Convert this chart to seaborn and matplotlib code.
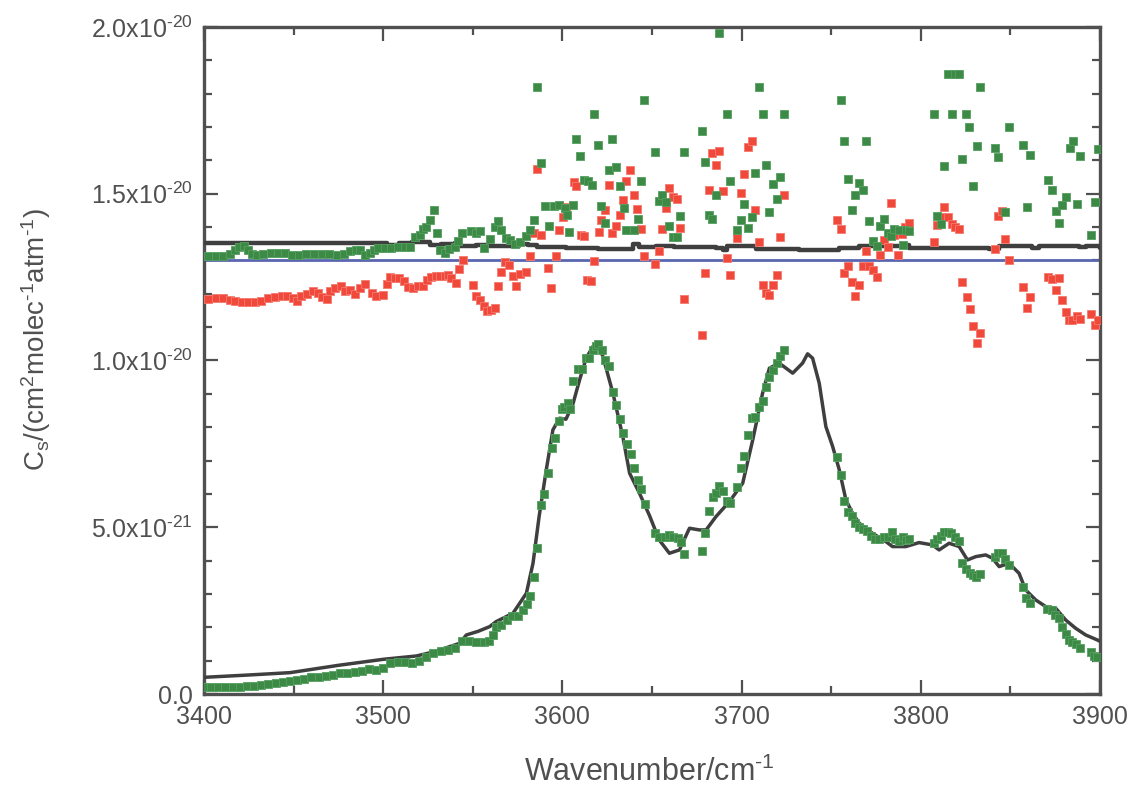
import numpy as np
import pandas as pd
import matplotlib
matplotlib.use("Agg")
import matplotlib.pyplot as plt
import seaborn as sns
from matplotlib.ticker import MultipleLocator, FixedLocator, FixedFormatter

# ---------------- data (y in units of 1e-21 cm^2 molec^-1 atm^-1) ----------------
model_x = [3400, 3425, 3448, 3475, 3500, 3518.5, 3528, 3542.7, 3546.4, 3553,
           3559.4, 3563, 3572.4, 3579.9, 3583.6, 3587, 3591, 3594.7, 3598.4, 3602,
           3606, 3609.6, 3613.3, 3617, 3619.8, 3622.6, 3628.2, 3633.7, 3637.5, 3643,
           3648.6, 3654, 3659.7, 3665.3, 3670.9, 3676.4, 3680.2, 3685.7, 3693.2, 3700.6,
           3706.2, 3711.7, 3715.5, 3721, 3728.5, 3734, 3736.8, 3739.6, 3743.3, 3747,
           3750.8, 3754.5, 3758.2, 3761.9, 3765.6, 3773, 3780.5, 3784.2, 3791.6, 3799,
           3806.5, 3810.2, 3815.8, 3821.4, 3826, 3830.7, 3836.2, 3840, 3843.7, 3849.2,
           3854.8, 3858.5, 3864.1, 3869.7, 3875.3, 3880.8, 3886.4, 3892, 3898.5, 3900]
model_y = [0.50, 0.57, 0.64, 0.86, 1.04, 1.14, 1.26, 1.52, 1.77, 1.88,
           2.02, 2.17, 2.42, 3.02, 3.92, 5.32, 6.72, 7.92, 8.27, 8.24,
           8.72, 9.42, 10.07, 10.42, 10.47, 10.12, 9.02, 7.72, 6.62, 6.02,
           5.35, 4.62, 4.22, 4.32, 4.97, 4.92, 4.92, 5.32, 5.77, 6.32,
           7.62, 9.02, 9.77, 9.92, 9.62, 9.92, 10.20, 10.07, 9.32, 8.02,
           7.42, 6.72, 5.82, 5.42, 5.12, 4.82, 4.57, 4.42, 4.42, 4.54,
           4.47, 4.32, 4.52, 4.42, 4.02, 4.12, 4.17, 4.07, 3.82, 3.92,
           3.62, 3.12, 2.82, 2.62, 2.57, 2.22, 1.97, 1.77, 1.62, 1.58]

meas_x = [3400, 3404, 3408, 3412, 3416, 3420, 3424, 3428, 3432, 3436, 3440, 3444, 3448, 3452,
          3456, 3460, 3464, 3468, 3472, 3476, 3480, 3484, 3488, 3492, 3496, 3500, 3504, 3508,
          3512, 3516, 3520, 3524, 3528, 3532, 3536, 3540, 3544, 3548, 3552, 3556, 3559,
          3561, 3563, 3566, 3569, 3572, 3575, 3578, 3580, 3582, 3584, 3586, 3588, 3590, 3592,
          3594, 3596, 3598, 3599.5, 3601, 3603, 3604, 3606, 3608.5, 3611, 3613, 3615, 3617,
          3618.5, 3620, 3622, 3624, 3626, 3628, 3630, 3632, 3634, 3636, 3638, 3640, 3642, 3644,
          3646, 3651.4, 3654.1, 3657, 3659.7, 3661.6, 3664.4, 3666.2, 3668, 3678, 3679.8, 3682,
          3684, 3685.7, 3687.6, 3689.8, 3691.7, 3693.5, 3697.4, 3699.7, 3701.5, 3703.8, 3705.8,
          3707.7, 3709.9, 3711.7, 3713.6, 3715.5, 3717.3, 3719.6, 3721.4, 3723.6,
          3753.2, 3755.4, 3757.3, 3759.5, 3761.5, 3763.4, 3765.6, 3767.9, 3769.7, 3772.1,
          3774.5, 3776.8, 3779.6, 3781.4, 3783.7, 3785.7, 3787.9, 3789.8, 3791.6, 3793.5,
          3807.4, 3808.9, 3811.2, 3813, 3815.2, 3817.1, 3819.1, 3821.4, 3823.2, 3825.1, 3827.3,
          3829.2, 3831, 3833, 3841.3, 3843.1, 3845.2, 3847, 3849.2, 3857, 3858.9, 3861, 3870.6,
          3873, 3874.9, 3877.1, 3879, 3880.8, 3882.7, 3884.5, 3886.8, 3889, 3894.8, 3896.6, 3898.5]
meas_y = [0.20, 0.20, 0.21, 0.21, 0.22, 0.22, 0.23, 0.24, 0.26, 0.30, 0.33, 0.35, 0.38, 0.42,
          0.46, 0.50, 0.52, 0.53, 0.56, 0.62, 0.64, 0.65, 0.70, 0.74, 0.72, 0.78, 0.93, 0.96,
          0.96, 0.92, 1.00, 1.12, 1.22, 1.28, 1.32, 1.37, 1.60, 1.60, 1.57, 1.56, 1.58,
          1.77, 2.02, 2.07, 2.22, 2.34, 2.34, 2.52, 2.70, 2.95, 3.52, 4.39, 5.67, 5.99, 6.64,
          7.37, 7.67, 8.20, 8.54, 8.60, 8.72, 8.54, 9.40, 9.74, 9.74, 10.07, 10.07, 10.32,
          10.42, 10.50, 10.30, 10.00, 9.82, 9.05, 8.67, 8.25, 7.82, 7.49, 7.20, 6.77, 6.42, 6.14,
          5.69, 4.82, 4.72, 4.70, 4.77, 4.70, 4.67, 4.57, 4.20, 4.30, 4.82, 5.50,
          5.90, 6.02, 6.24, 6.10, 5.80, 5.72, 6.22, 6.77, 7.14, 7.77, 8.27,
          8.30, 8.62, 8.80, 9.20, 9.50, 9.70, 9.92, 10.12, 10.30,
          7.10, 6.57, 5.80, 5.47, 5.34, 5.12, 5.00, 4.95, 4.89, 4.74,
          4.64, 4.64, 4.70, 4.70, 4.87, 4.64, 4.60, 4.70, 4.62, 4.64,
          4.52, 4.64, 4.74, 4.87, 4.85, 4.82, 4.72, 4.60, 3.94, 3.74, 3.64,
          3.57, 3.52, 3.60, 4.10, 4.22, 4.22, 4.04, 3.87, 3.20, 2.87, 2.74, 2.54,
          2.52, 2.37, 2.27, 2.00, 1.80, 1.62, 1.57, 1.50, 1.37, 1.27, 1.14, 1.12]

upper_green_x = [3402.4, 3406.5, 3410.4, 3414.5, 3417.3, 3419.7, 3422.3, 3424.3, 3426.6, 3429.4,
                 3433, 3437.2, 3441.4, 3445.2, 3448.9, 3453.1, 3457.2, 3461.3, 3465.6, 3469.9,
                 3474, 3478, 3481.4, 3484.7, 3487, 3489.7, 3492.5, 3494.8, 3497.2, 3500.9,
                 3504.6, 3508.3, 3512, 3514.8, 3517.6, 3520.4, 3522.3, 3524.1, 3526.3, 3528.2,
                 3530.1, 3531.9, 3534.3, 3536.8, 3539.9, 3541.8, 3544.2, 3549.2, 3551.6, 3554.2,
                 3556.1, 3559.8, 3562.2, 3564.1, 3565.9, 3568.3, 3570.6, 3573.4, 3576.5, 3579.5,
                 3582.1, 3584, 3586, 3588.2, 3590.1, 3592.3, 3595.1, 3598.1, 3601.2, 3602.5,
                 3603.6, 3605.9, 3607.7, 3610, 3612, 3614.2, 3616.3, 3617.8, 3620, 3621.7,
                 3623.9, 3625.8, 3627.8, 3630, 3631.9, 3634.1, 3635.6, 3639.7, 3642.1, 3644,
                 3645.8, 3651.9, 3653.8, 3655.6, 3657.9, 3659.7, 3661.6, 3663.8, 3665.7, 3667.9,
                 3677.9, 3679.8, 3681.6, 3683.5, 3685.7, 3687.6, 3691.7, 3693.5, 3697.3, 3699.7,
                 3701.5, 3703.8, 3705.8, 3707.7, 3709.9, 3711.7, 3713.6, 3715.5, 3717.7, 3719.6,
                 3721.4, 3723.6, 3755.4, 3757.3, 3759.5, 3761.5, 3763.4, 3765.6, 3767.5, 3769.3,
                 3771.2, 3773.1, 3775.3, 3777.2, 3779.6, 3781.4, 3783.3, 3785.1, 3787.6, 3789.8,
                 3791.6, 3793.5, 3807.4, 3808.9, 3811.2, 3813, 3815.2, 3817.3, 3819.1, 3821.4,
                 3823.2, 3825.1, 3827, 3829.2, 3831.2, 3833, 3841.3, 3843.1, 3847, 3849.2,
                 3857, 3859.1, 3861, 3871, 3873, 3875.3, 3877.1, 3879, 3880.8, 3883,
                 3884.9, 3887, 3888.8, 3894.8, 3897, 3898.9]
upper_green_y = [13.14, 13.14, 13.14, 13.20, 13.30, 13.40, 13.44, 13.32, 13.20, 13.17,
                 13.20, 13.22, 13.22, 13.22, 13.16, 13.16, 13.18, 13.18, 13.18, 13.18,
                 13.16, 13.18, 13.27, 13.32, 13.30, 13.17, 13.22, 13.32, 13.37, 13.37,
                 13.37, 13.39, 13.40, 13.40, 13.70, 13.77, 13.94, 14.00, 14.20, 14.52,
                 13.82, 13.32, 13.22, 13.34, 13.40, 13.57, 13.82, 13.87, 13.82, 13.87,
                 13.37, 13.64, 14.00, 14.17, 13.92, 13.67, 13.62, 13.50, 13.54, 13.72,
                 13.92, 14.20, 18.20, 15.92, 14.64, 14.04, 14.64, 14.67, 14.57, 14.37,
                 13.84, 14.67, 16.64, 16.14, 15.40, 15.37, 15.27, 17.40, 16.47, 14.64,
                 14.12, 15.72, 16.64, 15.80, 15.22, 14.57, 13.92, 13.92, 14.25, 15.37,
                 17.80, 16.24, 14.77, 14.97, 14.74, 14.04, 13.70, 13.70, 14.32, 16.24,
                 16.87, 15.94, 14.37, 14.24, 14.97, 19.82, 17.40, 15.37, 13.90, 14.22,
                 14.69, 13.97, 14.30, 15.62, 18.20, 17.40, 15.87, 14.44, 15.29, 14.85,
                 15.49, 17.40, 17.80, 16.57, 15.45, 14.52, 14.97, 15.32, 15.12, 16.57,
                 14.17, 13.57, 13.44, 14.02, 14.24, 13.82, 13.74, 13.94, 13.90, 13.47,
                 13.92, 13.87, 17.40, 14.32, 14.10, 15.84, 18.60, 17.40, 18.60, 18.60,
                 16.04, 17.40, 17.00, 15.22, 16.44, 18.20, 16.37, 16.10, 14.44, 17.00,
                 16.47, 14.60, 16.16, 15.40, 15.12, 14.47, 14.12, 14.65, 14.89, 16.37,
                 16.57, 14.69, 16.12, 13.75, 14.74, 16.34]

red_x = [3402.4, 3406.5, 3410.4, 3414.5, 3417.3, 3421, 3424.7, 3428.4, 3432.1, 3435.9,
         3439.6, 3443.3, 3446.5, 3449.8, 3452, 3454.4, 3457.6, 3460.9, 3463.7, 3466.1,
         3468.4, 3470.6, 3473, 3476.2, 3478.6, 3481.4, 3484.2, 3487, 3489.7, 3493.5,
         3496.2, 3500, 3502.2, 3504, 3506.5, 3508.9, 3511.5, 3513.9, 3516.7, 3519.5,
         3522.3, 3524.5, 3526.9, 3529.3, 3531.5, 3534.3, 3536.2, 3538, 3540.5, 3542.3,
         3544.6, 3550.1, 3552, 3554.2, 3556.1, 3558, 3560, 3562.2, 3564.1, 3565.9,
         3567.8, 3570.2, 3572.4, 3574.3, 3576.5, 3579.9, 3582.1, 3584, 3586, 3588.2,
         3591.9, 3593.8, 3596.2, 3598.1, 3600.3, 3602.2, 3606.2, 3607.7, 3610.2, 3612,
         3613.7, 3616.1, 3617.9, 3620.2, 3621.7, 3623.9, 3625.9, 3627.8, 3630, 3631.9,
         3633.7, 3635.6, 3637.8, 3639.7, 3641.7, 3644, 3645.8, 3651.9, 3653.8, 3655.6,
         3657.9, 3659.7, 3661.6, 3663.8, 3665.7, 3667.9, 3677.9, 3679.8, 3681.6, 3683.5,
         3685.7, 3687.6, 3689.8, 3691.7, 3693.5, 3697.4, 3699.7, 3701.5, 3703.8, 3705.8,
         3707.7, 3709.9, 3711.7, 3713.6, 3715.5, 3717.7, 3719.7, 3721.6, 3723.6, 3753.2,
         3755.4, 3757.3, 3759.5, 3761.5, 3763.4, 3765.6, 3767.5, 3769.3, 3771.2, 3773.4,
         3775.5, 3777.3, 3779.6, 3781.4, 3783.3, 3785.1, 3787.4, 3789.4, 3791.3, 3793.5,
         3807.4, 3808.9, 3811.2, 3813, 3815.4, 3817.3, 3819.1, 3821.4, 3823.2, 3825.5,
         3827.3, 3829.2, 3831.2, 3833.1, 3841.3, 3843.1, 3845.2, 3847, 3849.2, 3857,
         3859.1, 3861, 3871, 3873, 3875.3, 3877.1, 3879, 3880.8, 3882.7, 3884.5,
         3887, 3888.8, 3894.8, 3897, 3898.9]
red_y = [11.84, 11.86, 11.86, 11.82, 11.77, 11.74, 11.74, 11.74, 11.77, 11.87,
         11.90, 11.92, 11.94, 11.87, 11.77, 11.94, 12.00, 12.07, 12.02, 11.90,
         11.84, 12.07, 12.17, 12.22, 12.07, 12.10, 12.00, 12.17, 12.30, 12.02,
         11.92, 11.97, 12.30, 12.50, 12.47, 12.47, 12.37, 12.20, 12.17, 12.22,
         12.22, 12.42, 12.50, 12.54, 12.54, 12.52, 12.57, 12.47, 12.32, 12.74,
         13.00, 12.27, 11.94, 11.80, 11.64, 11.47, 11.50, 11.57, 12.22, 12.64,
         12.94, 12.87, 12.54, 12.24, 12.60, 12.64, 13.14, 13.82, 15.74, 13.77,
         12.77, 12.17, 13.12, 13.92, 14.30, 14.60, 15.34, 15.22, 13.77, 13.72,
         12.42, 12.37, 12.97, 13.85, 14.20, 14.50, 15.25, 13.82, 14.02, 14.37,
         14.82, 15.37, 15.70, 14.97, 14.54, 13.94, 13.14, 12.89, 13.27, 13.94,
         14.57, 15.17, 14.90, 14.84, 13.97, 11.84, 10.77, 12.62, 15.10, 16.22,
         15.85, 16.27, 15.07, 13.07, 12.55, 13.67, 15.02, 15.60, 16.40, 16.59,
         14.50, 13.55, 12.25, 12.02, 11.95, 12.25, 12.55, 13.70, 14.95, 14.20,
         13.95, 12.62, 12.82, 12.34, 11.92, 12.27, 12.82, 13.27, 12.82, 12.70,
         12.49, 13.15, 13.62, 13.39, 14.72, 13.77, 13.15, 13.80, 14.00, 14.12,
         13.54, 14.07, 14.30, 14.60, 14.30, 14.10, 14.00, 13.94, 12.34, 11.90,
         11.54, 11.04, 10.52, 10.82, 13.34, 14.34, 14.47, 13.65, 13.00, 12.19,
         11.57, 11.90, 12.49, 12.44, 12.10, 12.47, 11.82, 11.44, 11.22, 11.22,
         11.32, 11.24, 11.39, 11.07, 11.22]

upper_black_x = [3400, 3500, 3502, 3509, 3516, 3526, 3532, 3540, 3543, 3552,
                 3559, 3565, 3570, 3576, 3581, 3586, 3602, 3620, 3635.6, 3639.3,
                 3643, 3652, 3662, 3685.7, 3689.5, 3692, 3704, 3708, 3721, 3732,
                 3740, 3754.5, 3765.6, 3776.8, 3791.6, 3793.5, 3819, 3838, 3843.7, 3862,
                 3866, 3888, 3892, 3900]
upper_black_y = [13.52, 13.52, 13.47, 13.52, 13.54, 13.47, 13.50, 13.52, 13.44, 13.47,
                 13.42, 13.44, 13.42, 13.50, 13.46, 13.40, 13.37, 13.34, 13.34, 13.50,
                 13.40, 13.42, 13.40, 13.37, 13.30, 13.42, 13.42, 13.34, 13.34, 13.30,
                 13.32, 13.37, 13.42, 13.44, 13.47, 13.37, 13.37, 13.34, 13.42, 13.37,
                 13.42, 13.40, 13.44, 13.37]

blue_x = [3400, 3900]
blue_y = [13.0, 13.0]

x_ticks = [3400, 3500, 3600, 3700, 3800, 3900]
y_ticks = [0.0, 5e-21, 1.0e-20, 1.5e-20, 2.0e-20]
y_tick_labels = [r"0.0", r"5.0x10$^{\text{-21}}$", r"1.0x10$^{\text{-20}}$",
                 r"1.5x10$^{\text{-20}}$", r"2.0x10$^{\text{-20}}$"]

SCALE = 1e-21

# ---------------- style ----------------
sns.set_style("ticks")
plt.rcParams["font.family"] = ["Liberation Sans", "DejaVu Sans"]
plt.rcParams["mathtext.fontset"] = "custom"
plt.rcParams["mathtext.rm"] = "Liberation Sans"
plt.rcParams["mathtext.it"] = "Liberation Sans"
plt.rcParams["mathtext.default"] = "regular"

GRAY = "#505050"
GREEN = "#3d8a47"
GREEN_EDGE = "#55a060"
RED = "#f0483a"
RED_EDGE = "#f57a6e"
BLUE = "#5a66b0"
LINE = "#3f3f3f"

fig = plt.figure(figsize=(11.3, 7.89), dpi=100)
ax = fig.add_axes([0.1805, 0.1204, 0.793, 0.8454])

df_model = pd.DataFrame({"w": model_x, "c": np.array(model_y) * SCALE})
df_meas = pd.DataFrame({"w": meas_x, "c": np.array(meas_y) * SCALE})
df_ug = pd.DataFrame({"w": upper_green_x, "c": np.array(upper_green_y) * SCALE})
df_red = pd.DataFrame({"w": red_x, "c": np.array(red_y) * SCALE})
df_ub = pd.DataFrame({"w": upper_black_x, "c": np.array(upper_black_y) * SCALE})
df_blue = pd.DataFrame({"w": blue_x, "c": np.array(blue_y) * SCALE})

sns.lineplot(data=df_blue, x="w", y="c", ax=ax, color=BLUE, linewidth=2.0, estimator=None, sort=False, zorder=2)
sns.lineplot(data=df_ub, x="w", y="c", ax=ax, color=LINE, linewidth=3.2, estimator=None, sort=False, zorder=3,
             drawstyle="steps-post")
sns.lineplot(data=df_model, x="w", y="c", ax=ax, color=LINE, linewidth=2.5, estimator=None, sort=False, zorder=3)

sq = dict(marker="s", s=30, linewidth=0.6, zorder=4, legend=False)
sns.scatterplot(data=df_red, x="w", y="c", ax=ax, color=RED, edgecolor=RED_EDGE, **sq)
sns.scatterplot(data=df_ug, x="w", y="c", ax=ax, color=GREEN, edgecolor=GREEN_EDGE, **sq)
sns.scatterplot(data=df_meas, x="w", y="c", ax=ax, color=GREEN, edgecolor=GREEN_EDGE, **sq)

ax.set_xlim(3400, 3900)
ax.set_ylim(0, 2.0e-20)
ax.xaxis.set_major_locator(FixedLocator(x_ticks))
ax.xaxis.set_minor_locator(MultipleLocator(50))
ax.yaxis.set_major_locator(FixedLocator(y_ticks))
ax.yaxis.set_major_formatter(FixedFormatter(y_tick_labels))
ax.yaxis.set_minor_locator(MultipleLocator(1e-21))

for sp in ax.spines.values():
    sp.set_visible(True)
    sp.set_color(GRAY)
    sp.set_linewidth(2.4)

ax.tick_params(which="major", direction="in", top=True, right=True, length=10, width=1.6,
               color=GRAY, labelcolor=GRAY, labelsize=18, pad=8)
ax.tick_params(which="minor", direction="in", top=True, right=True, length=6, width=1.6, color=GRAY)

ax.set_xlabel(r"Wavenumber/cm$^{\text{-1}}$", fontsize=22, color=GRAY)
ax.xaxis.set_label_coords(0.497, -0.094)
ax.set_ylabel(r"C$_{s}$/(cm$^{2}$molec$^{\text{-1}}$atm$^{\text{-1}}$)", fontsize=20, color=GRAY)
ax.yaxis.set_label_coords(-0.168, 0.531)

fig.savefig("out.png", dpi=100)
